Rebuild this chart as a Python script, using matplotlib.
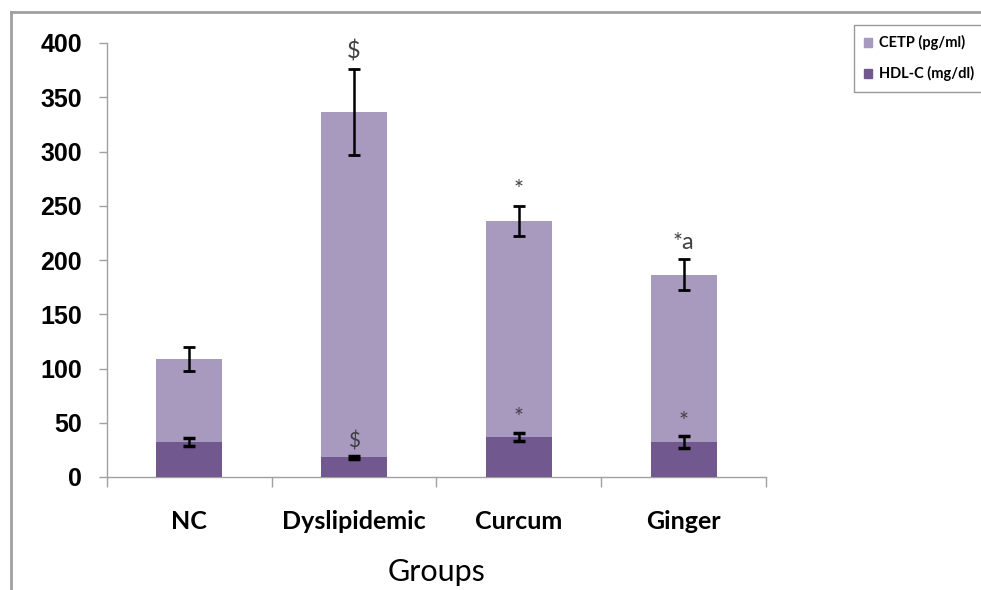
import matplotlib
matplotlib.use("Agg")
import matplotlib.pyplot as plt
from matplotlib.lines import Line2D
from matplotlib.patches import Patch
import numpy as np

groups = ["NC", "Dyslipidemic", "Curcum", "Ginger"]
cetp = [108.5, 336.5, 236, 186.5]
cetp_err = [11, 39.5, 13.5, 14]
hdl = [32.3, 18.1, 37.2, 32.3]
hdl_err = [3.8, 1.5, 3.8, 5.4]
cetp_marks = ["", "$", "*", "*a"]
hdl_marks = ["", "$", "*", "*"]

c_cetp = "#A899BF"
c_hdl = "#71598F"

fig = plt.figure(figsize=(9.81, 5.9), dpi=100)
ax = fig.add_axes([107/981, 1-477/590, (766-107)/981, (477-43)/590])

x = np.arange(len(groups))
w = 0.4
ax.bar(x, cetp, width=w, color=c_cetp, zorder=2, label="CETP (pg/ml)")
ax.bar(x, hdl, width=w, color=c_hdl, zorder=3, label="HDL-C (mg/dl)")
ax.errorbar(x, cetp, yerr=cetp_err, fmt="none", ecolor="black", elinewidth=1.8,
            capsize=4.5, capthick=2, zorder=4)
ax.errorbar(x, hdl, yerr=hdl_err, fmt="none", ecolor="black", elinewidth=1.8,
            capsize=4.5, capthick=2.5, zorder=4)

for i in range(len(groups)):
    if cetp_marks[i]:
        ax.text(x[i], cetp[i] + cetp_err[i] + 6, cetp_marks[i], ha="center", va="bottom",
                fontsize=17, color="#404040", family="Lato", zorder=5)
    if hdl_marks[i]:
        ax.text(x[i], hdl[i] + hdl_err[i] + 4, hdl_marks[i], ha="center", va="bottom",
                fontsize=17 if hdl_marks[i] == "*" else 15, color="#404040",
                family="Lato", zorder=5)

ax.set_xlim(-0.5, len(groups) - 0.5)
ax.set_ylim(0, 400)
ax.set_yticks(np.arange(0, 401, 50))
ax.set_yticklabels([str(v) for v in range(0, 401, 50)], fontsize=18,
                   fontweight="bold", family="Liberation Sans")
ax.set_xticks(x)
ax.set_xticklabels(groups, fontsize=18, fontweight="bold", family="Lato")
ax.set_xticks(np.arange(-0.5, len(groups)), minor=True)
ax.tick_params(axis="x", which="major", length=0, pad=24)
ax.tick_params(axis="x", which="minor", length=7, color="#A0A0A0", width=1)
ax.tick_params(axis="y", length=6, color="#A0A0A0", width=1, pad=12)

for s in ["top", "right"]:
    ax.spines[s].set_visible(False)
for s in ["left", "bottom"]:
    ax.spines[s].set_color("#A0A0A0")
    ax.spines[s].set_linewidth(1)

ax.set_xlabel("Groups", fontsize=22, family="Lato", labelpad=18)

leg = fig.legend(handles=[Patch(color=c_cetp, label="CETP (pg/ml)"),
                          Patch(color=c_hdl, label="HDL-C (mg/dl)")],
                 loc="upper left", bbox_to_anchor=(854/981, 1-25/590),
                 prop={"family": "Lato", "weight": "bold", "size": 10.5},
                 frameon=True, fancybox=False, edgecolor="#808080",
                 handlelength=0.55, handleheight=0.55, handletextpad=0.45,
                 labelspacing=1.1, borderpad=0.7, borderaxespad=0)
leg.get_frame().set_linewidth(1)

fig.add_artist(Line2D([11/981, 11/981], [0, 1-12/590], color="#A0A0A0", lw=2))
fig.add_artist(Line2D([11/981, 1], [1-12/590, 1-12/590], color="#A0A0A0", lw=2))

fig.savefig("out.png", dpi=100)
